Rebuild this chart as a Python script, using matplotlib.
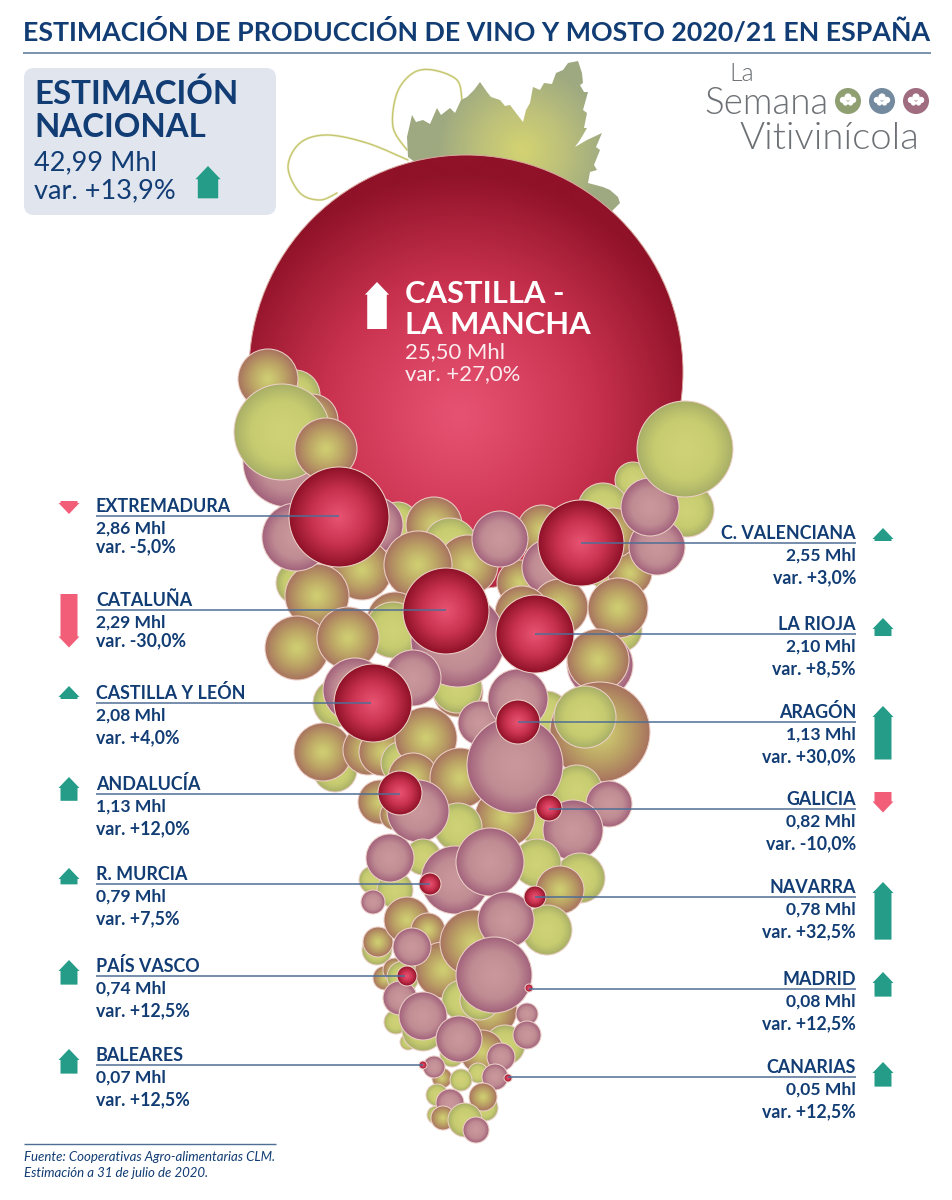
import numpy as np
import matplotlib
matplotlib.use("Agg")
import matplotlib.pyplot as plt
from matplotlib.patches import Circle, Polygon, FancyBboxPatch
from matplotlib.colors import LinearSegmentedColormap

# ---------- data ----------
title = "ESTIMACIÓN DE PRODUCCIÓN DE VINO Y MOSTO 2020/21 EN ESPAÑA"
national_value = "42,99 Mhl"
national_var = 13.9
clm_value = "25,50 Mhl"
clm_var = 27.0

left_names = ["EXTREMADURA", "CATALUÑA", "CASTILLA Y LEÓN", "ANDALUCÍA", "R. MURCIA", "PAÍS VASCO", "BALEARES"]
left_values = ["2,86", "2,29", "2,08", "1,13", "0,79", "0,74", "0,07"]
left_vars = [-5.0, -30.0, 4.0, 12.0, 7.5, 12.5, 12.5]
right_names = ["C. VALENCIANA", "LA RIOJA", "ARAGÓN", "GALICIA", "NAVARRA", "MADRID", "CANARIAS"]
right_values = ["2,55", "2,10", "1,13", "0,82", "0,78", "0,08", "0,05"]
right_vars = [3.0, 8.5, 30.0, -10.0, 32.5, 12.5, 12.5]

# ---------- layout (pixels of the 953x1200 page) ----------
left_bubble_x = [339, 446, 373, 400, 430, 407, 423]
left_bubble_y = [517, 611, 703, 793, 884, 976, 1065]
left_bubble_r = [50, 43, 39, 22, 11, 10, 4]
left_line_end = [339, 446, 371, 400, 430, 405, 423]
left_line_y = [516, 610, 703, 794, 884, 976, 1065]
left_arrow_top = [501, 594, 686, 777, 868, 960, 1049]

right_bubble_x = [581, 535, 518, 549, 535, 529, 508]
right_bubble_y = [543, 634, 722, 808, 897, 988, 1078]
right_bubble_r = [43, 39, 22, 13, 11, 4, 4]
right_line_y = [543, 634, 722, 809, 897, 989, 1077]
right_arrow_top = [528, 618, 706, 792, 882, 972, 1062]

# grape layout, back to front: kind g=green, o=olive-brown, p=pink
grapes = [
 ("g",295,395,25),("o",268,379,30),("o",312,420,26),("p",288,462,45),("g",282,432,48),("o",326,449,31),
 ("g",398,522,20),("p",375,525,28),
 ("g",687,510,27),("g",633,480,18),("g",603,508,25),("g",607,567,22),("g",298,583,22),("g",620,630,22),
 ("o",434,525,28),("g",450,545,27),("o",468,565,30),("o",362,570,30),("o",317,596,32),("p",296,537,34),
 ("o",542,530,25),("o",630,573,22),("o",613,533,25),("p",657,547,28),("p",650,507,29),("g",685,449,48),
 ("o",520,583,23),("p",550,567,28),("o",560,607,28),("o",522,613,27),("o",618,608,30),
 ("o",418,565,34),("p",500,539,28),
 ("o",395,620,28),("g",393,630,28),("o",297,648,32),("o",348,638,31),
 ("o",458,692,25),("g",457,688,25),
 ("p",458,640,47),
 ("p",600,665,33),("o",598,660,31),
 ("g",337,703,24),("g",335,770,22),("o",323,752,29),("o",368,750,25),("o",383,752,24),
 ("g",403,763,22),("p",355,690,32),("o",426,738,31),("p",413,678,28),
 ("g",547,713,22),("o",600,732,50),("g",585,717,31),
 ("o",413,778,25),("o",460,778,30),("p",480,723,22),("p",518,699,30),
 ("g",577,790,25),("g",538,827,18),("o",505,817,30),("g",458,827,24),("o",380,802,22),("o",395,815,15),
 ("p",515,765,48),("p",418,811,31),("p",609,804,23),("p",573,830,30),
 ("g",580,878,25),("g",537,863,24),("o",560,890,24),("g",423,857,18),("g",373,880,14),("g",395,890,18),
 ("p",390,858,24),("p",373,902,12),("p",455,880,34),("p",490,862,34),
 ("g",547,930,25),("g",377,950,15),("o",378,942,15),("o",407,920,23),("o",428,930,17),
 ("o",385,978,12),("o",395,970,12),("g",403,977,16),("o",443,970,28),("o",473,943,33),
 ("p",506,920,28),("p",412,947,19),
 ("g",396,1022,12),("g",408,1042,8),("g",423,1030,21),("o",490,1010,27),("g",462,1000,20),("g",480,1000,20),
 ("g",505,1045,20),("g",452,1055,12),
 ("p",494,975,38),("p",400,998,17),("p",423,1016,24),("o",482,1052,22),
 ("p",527,1014,11),("p",527,1035,14),("p",459,1039,23),("p",501,1057,14),
 ("g",478,1073,10),("o",442,1078,10),("g",461,1080,11),("p",434,1067,11),("p",495,1077,13),
 ("g",437,1095,11),("g",485,1108,13),("o",483,1097,14),("g",436,1115,9),("p",450,1103,14),
 ("o",443,1118,12),("g",465,1120,17),("p",476,1130,13),
]

leaf_x = [408,407,412,416,423,430,437,441,450,455,461,467,474,480,487,491,500,505,510,516,523,
          526,530,533,540,544,552,556,563,568,578,582,583,580,584,588,583,587,584,587,580,575,
          587,602,596,600,594,597,590,588,603,610,618,620,613,600,480]
leaf_y = [157,137,115,122,120,124,108,115,108,113,100,97,90,82,92,97,100,106,105,113,122,
          110,103,87,90,83,84,73,70,63,61,73,83,85,92,92,110,113,128,128,140,147,
          140,133,147,150,165,170,172,183,187,190,197,203,210,230,210]
tendril_a = [(408,160),(367,143),(327,135),(300,143),(288,167),(300,193),(320,200),(337,193)]
tendril_b = [(407,150),(393,127),(397,93),(413,73),(433,70),(457,80),(462,100)]

NAVY = "#113C74"
TEAL = "#249C87"
ROSE = "#F25D78"
RULE = "#4F6E96"

PALETTE = {
    "r": ("#E65271", "#C9324F", "#8F1228"),
    "g": ("#CFD277", "#C8CC70", "#A9B067"),
    "o": ("#CFCE72", "#BBA265", "#A8745F"),
    "p": ("#C9979C", "#C08C93", "#A2627C"),
}
EXPONENT = {"r": 1.15, "g": 1.5, "o": 1.25, "p": 1.5}

fig = plt.figure(figsize=(9.53, 12.0), dpi=100)
ax = fig.add_axes([0, 0, 1, 1])
ax.set_axis_off()
plt.rcParams["font.family"] = ["Lato", "DejaVu Sans"]
z = [2.0]


def nextz():
    z[0] += 0.01
    return z[0]


def grad_image(kind, off=(0.0, 0.0), n=96):
    cmap = LinearSegmentedColormap.from_list(kind, PALETTE[kind])
    u, v = np.meshgrid(np.linspace(-1, 1, n), np.linspace(-1, 1, n))
    t = np.clip(np.hypot(u - off[0], v - off[1]) / (1 + np.hypot(*off) * 0.6), 0, 1) ** EXPONENT[kind]
    return cmap(t)


def bubble(cx, cy, r, kind, off=(0.0, 0.0), n=96, edge="#EBCFC6", lw=0.75):
    zz = nextz()
    im = ax.imshow(grad_image(kind, off, n), extent=(cx - r, cx + r, cy + r, cy - r),
                   origin="upper", interpolation="bilinear", aspect="auto", zorder=zz)
    clip = Circle((cx, cy), r, transform=ax.transData)
    im.set_clip_path(clip)
    ax.add_patch(Circle((cx, cy), r, fc="none", ec=edge, lw=lw, zorder=zz + 0.001))


def arrow_length(var):
    return max(13.0, 1.65 * abs(var) + 4.0)


def arrow(cx, top, var, color, scale=1.0, zorder=30, length=None):
    L = (length if length is not None else arrow_length(var) * scale)
    hw = 10.5 * scale
    sw = 8.5 * scale
    hh = min(11.0 * scale, L * 0.85)
    if var >= 0:
        pts = [(cx, top), (cx + hw, top + hh), (cx + sw, top + hh), (cx + sw, top + L),
               (cx - sw, top + L), (cx - sw, top + hh), (cx - hw, top + hh)]
    else:
        bot = top + L
        pts = [(cx, bot), (cx + hw, bot - hh), (cx + sw, bot - hh), (cx + sw, top),
               (cx - sw, top), (cx - sw, bot - hh), (cx - hw, bot - hh)]
    ax.add_patch(Polygon(pts, closed=True, fc=color, ec="none", zorder=zorder))


def fmt_var(v):
    return ("var. %+.1f%%" % v).replace(".", ",").replace("var, ", "var. ")


def catmull(points, n=30):
    p = np.array([points[0]] + list(points) + [points[-1]], float)
    out = []
    for i in range(1, len(p) - 2):
        t = np.linspace(0, 1, n)[:, None]
        a, b, c, d = p[i - 1], p[i], p[i + 1], p[i + 2]
        out.append(0.5 * (2 * b + (c - a) * t + (2 * a - 5 * b + 4 * c - d) * t ** 2 + (3 * b - a - 3 * c + d) * t ** 3))
    return np.vstack(out)


# ---------- title ----------
ax.text(23, 41, title, fontsize=19.3, fontweight="bold", color=NAVY, ha="left", va="baseline")
ax.plot([23, 931], [53, 53], color="#557597", lw=1.1, solid_capstyle="butt")

# ---------- national box ----------
ax.add_patch(FancyBboxPatch((30, 74), 240, 135, boxstyle="round,pad=6,rounding_size=10",
                            fc="#E0E5EE", ec="none", zorder=1))
ax.text(34, 104.5, "ESTIMACIÓN", fontsize=23.8, fontweight="bold", color=NAVY, zorder=3)
ax.text(34, 137, "NACIONAL", fontsize=23.8, fontweight="bold", color=NAVY, zorder=3)
ax.text(34, 170.5, national_value, fontsize=19.5, color=NAVY, zorder=3)
ax.text(34, 198, fmt_var(national_var), fontsize=19.5, color=NAVY, zorder=3)
arrow(208, 166, national_var, TEAL, scale=1.2, zorder=3)

# ---------- tendrils ----------
for t in (tendril_a, tendril_b):
    c = catmull(t)
    ax.plot(c[:, 0], c[:, 1], color="#EEEDCC", lw=1.8, zorder=1.5, solid_capstyle="round")
    ax.plot(c[:, 0], c[:, 1], color="#C3C56C", lw=0.9, zorder=1.51, solid_capstyle="round")

# ---------- leaf ----------
n = 300
lx0, lx1, ly0, ly1 = 400, 625, 55, 240
xx, yy = np.meshgrid(np.linspace(lx0, lx1, n), np.linspace(ly0, ly1, n))
d = np.clip(np.hypot(xx - 522, yy - 150) / 85, 0, 1)
leaf_map = LinearSegmentedColormap.from_list("leaf", ["#D4D372", "#BCC07A", "#9EA981"])
im = ax.imshow(leaf_map(d), extent=(lx0, lx1, ly1, ly0), origin="upper", aspect="auto",
               interpolation="bilinear", zorder=1.6)
im.set_clip_path(Polygon(np.column_stack([leaf_x, leaf_y]), closed=True, transform=ax.transData))

# ---------- Castilla-La Mancha ----------
bubble(466, 372, 217, "r", off=(-0.03, 0.2), n=400, edge="#D9A99F", lw=0.7)

# ---------- grapes ----------
for kind, x, y, r in grapes:
    bubble(x, y, r, kind, n=64)

# ---------- regional bubbles ----------
for bx, by, br in zip(left_bubble_x + right_bubble_x, left_bubble_y + right_bubble_y,
                      left_bubble_r + right_bubble_r):
    bubble(bx, by, br, "r", n=96)

# ---------- CLM label ----------
arrow(377, 282, clm_var, "white", scale=1.15, zorder=30, length=47)
ax.text(405, 303, "CASTILLA -", fontsize=22.3, fontweight="bold", color="white", zorder=30)
ax.text(405, 334, "LA MANCHA", fontsize=22.3, fontweight="bold", color="white", zorder=30)
ax.text(405, 358, clm_value, fontsize=15.9, color="#FBEBEE", zorder=30)
ax.text(405, 380, fmt_var(clm_var), fontsize=15.9, color="#FBEBEE", zorder=30)

# ---------- left labels ----------
for i, name in enumerate(left_names):
    y = left_line_y[i]
    ax.plot([96, left_line_end[i]], [y, y], color=RULE, lw=1.1, zorder=25, solid_capstyle="butt")
    ax.text(96, y - 4, name, fontsize=12.9, fontweight="bold", color=NAVY, zorder=30)
    ax.text(96, y + 18, left_values[i] + " Mhl", fontsize=12.6, fontweight="bold", color=NAVY, zorder=30)
    ax.text(96, y + 36 + (4 if i > 1 else 0), fmt_var(left_vars[i]), fontsize=12.8, fontweight="bold",
            color=NAVY, zorder=30)
    arrow(69, left_arrow_top[i], left_vars[i], TEAL if left_vars[i] >= 0 else ROSE)

# ---------- right labels ----------
for i, name in enumerate(right_names):
    y = right_line_y[i]
    ax.plot([right_bubble_x[i], 856], [y, y], color=RULE, lw=1.1, zorder=25, solid_capstyle="butt")
    ax.text(856, y - 4, name, fontsize=12.9, fontweight="bold", color=NAVY, ha="right", zorder=30)
    ax.text(856, y + 18, right_values[i] + " Mhl", fontsize=12.6, fontweight="bold", color=NAVY, ha="right", zorder=30)
    ax.text(856, y + 40, fmt_var(right_vars[i]), fontsize=12.8, fontweight="bold", color=NAVY, ha="right", zorder=30)
    arrow(883, right_arrow_top[i], right_vars[i], TEAL if right_vars[i] >= 0 else ROSE)

# ---------- logo ----------
LOGO = "#6D7175"
ax.text(729, 81, "La", fontsize=18, fontweight=300, color=LOGO)
ax.text(704, 114, "Semana", fontsize=26.5, fontweight=300, color=LOGO)
ax.text(740, 149, "Vitivinícola", fontsize=27.6, fontweight=300, color=LOGO)
for cx, col in zip([848, 882, 916], ["#8F9F72", "#748A9F", "#A06C80"]):
    ax.add_patch(Circle((cx, 101), 13, fc=col, ec="none"))
    for dx, dy, rr in [(0, -4, 3.6), (-5, -1, 3.2), (5, -1, 3.2), (-2.5, 2, 2.6), (2.5, 2, 2.6)]:
        ax.add_patch(Circle((cx + dx, 101 + dy), rr, fc="white", ec="none"))

# ---------- footer ----------
ax.plot([24, 276], [1144, 1144], color=RULE, lw=1.0, solid_capstyle="butt")
ax.text(24, 1161, "Fuente: Cooperativas Agro-alimentarias CLM.", fontsize=9.5, style="italic", color=NAVY)
ax.text(24, 1177, "Estimación a 31 de julio de 2020.", fontsize=9.5, style="italic", color=NAVY)

ax.set_xlim(0, 953)
ax.set_ylim(1200, 0)
fig.savefig("out.png", dpi=100, facecolor="white")
